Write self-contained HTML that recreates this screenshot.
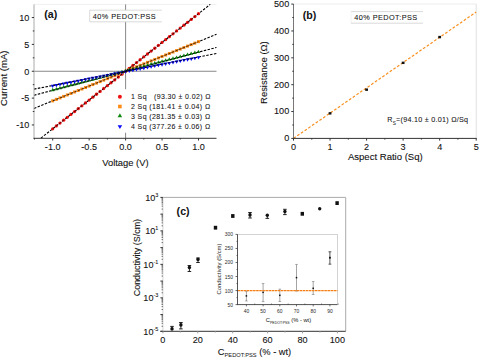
<!DOCTYPE html>
<html><head><meta charset="utf-8"><style>
html,body{margin:0;padding:0;background:#fff;}
body{width:479px;height:359px;overflow:hidden;}
svg{display:block;font-family:"Liberation Sans", sans-serif;}
</style></head><body>
<svg width="479" height="359" viewBox="0 0 479 359">
<rect width="479" height="359" fill="#fff"/>
<g id="pa">
<line x1="34.00" y1="4.40" x2="216.50" y2="4.40" stroke="#f0f0f0" stroke-width="1"/>
<line x1="125.60" y1="4.40" x2="125.60" y2="138.30" stroke="#888" stroke-width="1"/>
<line x1="34.00" y1="71.25" x2="216.50" y2="71.25" stroke="#888" stroke-width="1"/>
<line x1="40.92" y1="138.11" x2="210.28" y2="4.39" stroke="#000" stroke-width="1.1" stroke-dasharray="2.5,1.4"/>
<line x1="34.00" y1="108.44" x2="216.50" y2="34.34" stroke="#000" stroke-width="1.1" stroke-dasharray="2.5,1.4"/>
<line x1="34.00" y1="95.23" x2="216.50" y2="47.45" stroke="#000" stroke-width="1.1" stroke-dasharray="2.5,1.4"/>
<line x1="34.00" y1="89.14" x2="216.50" y2="53.50" stroke="#000" stroke-width="1.1" stroke-dasharray="2.5,1.4"/>
<circle cx="52.70" cy="128.81" r="1.65" fill="#f01010"/>
<circle cx="56.34" cy="125.93" r="1.65" fill="#f01010"/>
<circle cx="59.99" cy="123.05" r="1.65" fill="#f01010"/>
<circle cx="63.63" cy="120.17" r="1.65" fill="#f01010"/>
<circle cx="67.28" cy="117.30" r="1.65" fill="#f01010"/>
<circle cx="70.92" cy="114.42" r="1.65" fill="#f01010"/>
<circle cx="74.57" cy="111.54" r="1.65" fill="#f01010"/>
<circle cx="78.21" cy="108.66" r="1.65" fill="#f01010"/>
<circle cx="81.86" cy="105.78" r="1.65" fill="#f01010"/>
<circle cx="85.50" cy="102.91" r="1.65" fill="#f01010"/>
<circle cx="89.15" cy="100.03" r="1.65" fill="#f01010"/>
<circle cx="92.79" cy="97.15" r="1.65" fill="#f01010"/>
<circle cx="96.44" cy="94.27" r="1.65" fill="#f01010"/>
<circle cx="100.08" cy="91.39" r="1.65" fill="#f01010"/>
<circle cx="103.73" cy="88.52" r="1.65" fill="#f01010"/>
<circle cx="107.38" cy="85.64" r="1.65" fill="#f01010"/>
<circle cx="111.02" cy="82.76" r="1.65" fill="#f01010"/>
<circle cx="114.66" cy="79.88" r="1.65" fill="#f01010"/>
<circle cx="118.31" cy="77.01" r="1.65" fill="#f01010"/>
<circle cx="121.95" cy="74.13" r="1.65" fill="#f01010"/>
<circle cx="125.60" cy="71.25" r="1.65" fill="#f01010"/>
<circle cx="129.25" cy="68.37" r="1.65" fill="#f01010"/>
<circle cx="132.89" cy="65.49" r="1.65" fill="#f01010"/>
<circle cx="136.53" cy="62.62" r="1.65" fill="#f01010"/>
<circle cx="140.18" cy="59.74" r="1.65" fill="#f01010"/>
<circle cx="143.82" cy="56.86" r="1.65" fill="#f01010"/>
<circle cx="147.47" cy="53.98" r="1.65" fill="#f01010"/>
<circle cx="151.12" cy="51.11" r="1.65" fill="#f01010"/>
<circle cx="154.76" cy="48.23" r="1.65" fill="#f01010"/>
<circle cx="158.41" cy="45.35" r="1.65" fill="#f01010"/>
<circle cx="162.05" cy="42.47" r="1.65" fill="#f01010"/>
<circle cx="165.69" cy="39.59" r="1.65" fill="#f01010"/>
<circle cx="169.34" cy="36.72" r="1.65" fill="#f01010"/>
<circle cx="172.99" cy="33.84" r="1.65" fill="#f01010"/>
<circle cx="176.63" cy="30.96" r="1.65" fill="#f01010"/>
<circle cx="180.28" cy="28.08" r="1.65" fill="#f01010"/>
<circle cx="183.92" cy="25.20" r="1.65" fill="#f01010"/>
<circle cx="187.56" cy="22.33" r="1.65" fill="#f01010"/>
<circle cx="191.21" cy="19.45" r="1.65" fill="#f01010"/>
<circle cx="194.86" cy="16.57" r="1.65" fill="#f01010"/>
<circle cx="198.50" cy="13.69" r="1.65" fill="#f01010"/>
<rect x="51.20" y="99.35" width="3.00" height="3.00" fill="#ff8a14"/>
<rect x="54.84" y="97.87" width="3.00" height="3.00" fill="#ff8a14"/>
<rect x="58.49" y="96.39" width="3.00" height="3.00" fill="#ff8a14"/>
<rect x="62.13" y="94.91" width="3.00" height="3.00" fill="#ff8a14"/>
<rect x="65.78" y="93.43" width="3.00" height="3.00" fill="#ff8a14"/>
<rect x="69.42" y="91.95" width="3.00" height="3.00" fill="#ff8a14"/>
<rect x="73.07" y="90.47" width="3.00" height="3.00" fill="#ff8a14"/>
<rect x="76.71" y="88.99" width="3.00" height="3.00" fill="#ff8a14"/>
<rect x="80.36" y="87.51" width="3.00" height="3.00" fill="#ff8a14"/>
<rect x="84.00" y="86.03" width="3.00" height="3.00" fill="#ff8a14"/>
<rect x="87.65" y="84.55" width="3.00" height="3.00" fill="#ff8a14"/>
<rect x="91.29" y="83.07" width="3.00" height="3.00" fill="#ff8a14"/>
<rect x="94.94" y="81.59" width="3.00" height="3.00" fill="#ff8a14"/>
<rect x="98.58" y="80.11" width="3.00" height="3.00" fill="#ff8a14"/>
<rect x="102.23" y="78.63" width="3.00" height="3.00" fill="#ff8a14"/>
<rect x="105.88" y="77.15" width="3.00" height="3.00" fill="#ff8a14"/>
<rect x="109.52" y="75.67" width="3.00" height="3.00" fill="#ff8a14"/>
<rect x="113.16" y="74.19" width="3.00" height="3.00" fill="#ff8a14"/>
<rect x="116.81" y="72.71" width="3.00" height="3.00" fill="#ff8a14"/>
<rect x="120.45" y="71.23" width="3.00" height="3.00" fill="#ff8a14"/>
<rect x="124.10" y="69.75" width="3.00" height="3.00" fill="#ff8a14"/>
<rect x="127.75" y="68.27" width="3.00" height="3.00" fill="#ff8a14"/>
<rect x="131.39" y="66.79" width="3.00" height="3.00" fill="#ff8a14"/>
<rect x="135.03" y="65.31" width="3.00" height="3.00" fill="#ff8a14"/>
<rect x="138.68" y="63.83" width="3.00" height="3.00" fill="#ff8a14"/>
<rect x="142.32" y="62.35" width="3.00" height="3.00" fill="#ff8a14"/>
<rect x="145.97" y="60.87" width="3.00" height="3.00" fill="#ff8a14"/>
<rect x="149.62" y="59.39" width="3.00" height="3.00" fill="#ff8a14"/>
<rect x="153.26" y="57.91" width="3.00" height="3.00" fill="#ff8a14"/>
<rect x="156.91" y="56.43" width="3.00" height="3.00" fill="#ff8a14"/>
<rect x="160.55" y="54.95" width="3.00" height="3.00" fill="#ff8a14"/>
<rect x="164.19" y="53.47" width="3.00" height="3.00" fill="#ff8a14"/>
<rect x="167.84" y="51.99" width="3.00" height="3.00" fill="#ff8a14"/>
<rect x="171.49" y="50.51" width="3.00" height="3.00" fill="#ff8a14"/>
<rect x="175.13" y="49.03" width="3.00" height="3.00" fill="#ff8a14"/>
<rect x="178.78" y="47.55" width="3.00" height="3.00" fill="#ff8a14"/>
<rect x="182.42" y="46.07" width="3.00" height="3.00" fill="#ff8a14"/>
<rect x="186.06" y="44.59" width="3.00" height="3.00" fill="#ff8a14"/>
<rect x="189.71" y="43.11" width="3.00" height="3.00" fill="#ff8a14"/>
<rect x="193.36" y="41.63" width="3.00" height="3.00" fill="#ff8a14"/>
<rect x="197.00" y="40.15" width="3.00" height="3.00" fill="#ff8a14"/>
<path d="M52.70,87.84L54.60,91.14L50.80,91.14Z" fill="#108a10"/>
<path d="M56.34,86.88L58.24,90.18L54.44,90.18Z" fill="#108a10"/>
<path d="M59.99,85.93L61.89,89.23L58.09,89.23Z" fill="#108a10"/>
<path d="M63.63,84.97L65.53,88.27L61.73,88.27Z" fill="#108a10"/>
<path d="M67.28,84.02L69.18,87.32L65.38,87.32Z" fill="#108a10"/>
<path d="M70.92,83.06L72.82,86.36L69.02,86.36Z" fill="#108a10"/>
<path d="M74.57,82.11L76.47,85.41L72.67,85.41Z" fill="#108a10"/>
<path d="M78.21,81.16L80.11,84.46L76.31,84.46Z" fill="#108a10"/>
<path d="M81.86,80.20L83.76,83.50L79.96,83.50Z" fill="#108a10"/>
<path d="M85.50,79.25L87.41,82.55L83.60,82.55Z" fill="#108a10"/>
<path d="M89.15,78.29L91.05,81.59L87.25,81.59Z" fill="#108a10"/>
<path d="M92.79,77.34L94.69,80.64L90.89,80.64Z" fill="#108a10"/>
<path d="M96.44,76.38L98.34,79.68L94.54,79.68Z" fill="#108a10"/>
<path d="M100.08,75.43L101.98,78.73L98.18,78.73Z" fill="#108a10"/>
<path d="M103.73,74.48L105.63,77.78L101.83,77.78Z" fill="#108a10"/>
<path d="M107.38,73.52L109.28,76.82L105.47,76.82Z" fill="#108a10"/>
<path d="M111.02,72.57L112.92,75.87L109.12,75.87Z" fill="#108a10"/>
<path d="M114.66,71.61L116.56,74.91L112.76,74.91Z" fill="#108a10"/>
<path d="M118.31,70.66L120.21,73.96L116.41,73.96Z" fill="#108a10"/>
<path d="M121.95,69.70L123.86,73.00L120.05,73.00Z" fill="#108a10"/>
<path d="M125.60,68.75L127.50,72.05L123.70,72.05Z" fill="#108a10"/>
<path d="M129.25,67.80L131.15,71.10L127.34,71.10Z" fill="#108a10"/>
<path d="M132.89,66.84L134.79,70.14L130.99,70.14Z" fill="#108a10"/>
<path d="M136.53,65.89L138.44,69.19L134.63,69.19Z" fill="#108a10"/>
<path d="M140.18,64.93L142.08,68.23L138.28,68.23Z" fill="#108a10"/>
<path d="M143.82,63.98L145.72,67.28L141.92,67.28Z" fill="#108a10"/>
<path d="M147.47,63.02L149.37,66.32L145.57,66.32Z" fill="#108a10"/>
<path d="M151.12,62.07L153.02,65.37L149.22,65.37Z" fill="#108a10"/>
<path d="M154.76,61.12L156.66,64.42L152.86,64.42Z" fill="#108a10"/>
<path d="M158.41,60.16L160.31,63.46L156.50,63.46Z" fill="#108a10"/>
<path d="M162.05,59.21L163.95,62.51L160.15,62.51Z" fill="#108a10"/>
<path d="M165.69,58.25L167.59,61.55L163.79,61.55Z" fill="#108a10"/>
<path d="M169.34,57.30L171.24,60.60L167.44,60.60Z" fill="#108a10"/>
<path d="M172.99,56.34L174.89,59.64L171.09,59.64Z" fill="#108a10"/>
<path d="M176.63,55.39L178.53,58.69L174.73,58.69Z" fill="#108a10"/>
<path d="M180.28,54.44L182.18,57.74L178.38,57.74Z" fill="#108a10"/>
<path d="M183.92,53.48L185.82,56.78L182.02,56.78Z" fill="#108a10"/>
<path d="M187.56,52.53L189.47,55.83L185.66,55.83Z" fill="#108a10"/>
<path d="M191.21,51.57L193.11,54.87L189.31,54.87Z" fill="#108a10"/>
<path d="M194.86,50.62L196.76,53.92L192.96,53.92Z" fill="#108a10"/>
<path d="M198.50,49.66L200.40,52.96L196.60,52.96Z" fill="#108a10"/>
<path d="M52.70,87.98L54.60,84.68L50.80,84.68Z" fill="#0a0aff"/>
<path d="M56.34,87.27L58.24,83.97L54.44,83.97Z" fill="#0a0aff"/>
<path d="M59.99,86.56L61.89,83.26L58.09,83.26Z" fill="#0a0aff"/>
<path d="M63.63,85.85L65.53,82.55L61.73,82.55Z" fill="#0a0aff"/>
<path d="M67.28,85.14L69.18,81.84L65.38,81.84Z" fill="#0a0aff"/>
<path d="M70.92,84.43L72.82,81.13L69.02,81.13Z" fill="#0a0aff"/>
<path d="M74.57,83.71L76.47,80.41L72.67,80.41Z" fill="#0a0aff"/>
<path d="M78.21,83.00L80.11,79.70L76.31,79.70Z" fill="#0a0aff"/>
<path d="M81.86,82.29L83.76,78.99L79.96,78.99Z" fill="#0a0aff"/>
<path d="M85.50,81.58L87.41,78.28L83.60,78.28Z" fill="#0a0aff"/>
<path d="M89.15,80.87L91.05,77.57L87.25,77.57Z" fill="#0a0aff"/>
<path d="M92.79,80.16L94.69,76.86L90.89,76.86Z" fill="#0a0aff"/>
<path d="M96.44,79.44L98.34,76.14L94.54,76.14Z" fill="#0a0aff"/>
<path d="M100.08,78.73L101.98,75.43L98.18,75.43Z" fill="#0a0aff"/>
<path d="M103.73,78.02L105.63,74.72L101.83,74.72Z" fill="#0a0aff"/>
<path d="M107.38,77.31L109.28,74.01L105.47,74.01Z" fill="#0a0aff"/>
<path d="M111.02,76.60L112.92,73.30L109.12,73.30Z" fill="#0a0aff"/>
<path d="M114.66,75.89L116.56,72.59L112.76,72.59Z" fill="#0a0aff"/>
<path d="M118.31,75.17L120.21,71.87L116.41,71.87Z" fill="#0a0aff"/>
<path d="M121.95,74.46L123.86,71.16L120.05,71.16Z" fill="#0a0aff"/>
<path d="M125.60,73.75L127.50,70.45L123.70,70.45Z" fill="#0a0aff"/>
<path d="M129.25,73.04L131.15,69.74L127.34,69.74Z" fill="#0a0aff"/>
<path d="M132.89,72.33L134.79,69.03L130.99,69.03Z" fill="#0a0aff"/>
<path d="M136.53,71.61L138.44,68.31L134.63,68.31Z" fill="#0a0aff"/>
<path d="M140.18,70.90L142.08,67.60L138.28,67.60Z" fill="#0a0aff"/>
<path d="M143.82,70.19L145.72,66.89L141.92,66.89Z" fill="#0a0aff"/>
<path d="M147.47,69.48L149.37,66.18L145.57,66.18Z" fill="#0a0aff"/>
<path d="M151.12,68.77L153.02,65.47L149.22,65.47Z" fill="#0a0aff"/>
<path d="M154.76,68.06L156.66,64.76L152.86,64.76Z" fill="#0a0aff"/>
<path d="M158.41,67.34L160.31,64.04L156.50,64.04Z" fill="#0a0aff"/>
<path d="M162.05,66.63L163.95,63.33L160.15,63.33Z" fill="#0a0aff"/>
<path d="M165.69,65.92L167.59,62.62L163.79,62.62Z" fill="#0a0aff"/>
<path d="M169.34,65.21L171.24,61.91L167.44,61.91Z" fill="#0a0aff"/>
<path d="M172.99,64.50L174.89,61.20L171.09,61.20Z" fill="#0a0aff"/>
<path d="M176.63,63.79L178.53,60.49L174.73,60.49Z" fill="#0a0aff"/>
<path d="M180.28,63.07L182.18,59.77L178.38,59.77Z" fill="#0a0aff"/>
<path d="M183.92,62.36L185.82,59.06L182.02,59.06Z" fill="#0a0aff"/>
<path d="M187.56,61.65L189.47,58.35L185.66,58.35Z" fill="#0a0aff"/>
<path d="M191.21,60.94L193.11,57.64L189.31,57.64Z" fill="#0a0aff"/>
<path d="M194.86,60.23L196.76,56.93L192.96,56.93Z" fill="#0a0aff"/>
<path d="M198.50,59.52L200.40,56.22L196.60,56.22Z" fill="#0a0aff"/>
<line x1="52.70" y1="128.81" x2="198.50" y2="13.69" stroke="#000" stroke-width="0.9" stroke-dasharray="2.5,1.4" opacity="0.8"/>
<line x1="52.70" y1="100.85" x2="198.50" y2="41.65" stroke="#000" stroke-width="0.9" stroke-dasharray="2.5,1.4" opacity="0.8"/>
<line x1="52.70" y1="90.34" x2="198.50" y2="52.16" stroke="#000" stroke-width="0.9" stroke-dasharray="2.5,1.4" opacity="0.8"/>
<line x1="52.70" y1="85.48" x2="198.50" y2="57.02" stroke="#000" stroke-width="0.9" stroke-dasharray="2.5,1.4" opacity="0.8"/>
<line x1="34.00" y1="4.40" x2="34.00" y2="138.80" stroke="#aaa" stroke-width="1"/>
<line x1="33.50" y1="138.30" x2="216.50" y2="138.30" stroke="#333" stroke-width="1"/>
<line x1="31.80" y1="124.95" x2="34.00" y2="124.95" stroke="#333" stroke-width="1"/>
<text transform="translate(29.40,128.25) scale(0.92,1)" text-anchor="end" font-size="9.9" fill="#111" stroke="#111" stroke-width="0.1">-10</text>
<line x1="31.80" y1="98.10" x2="34.00" y2="98.10" stroke="#333" stroke-width="1"/>
<text transform="translate(29.40,101.40) scale(0.92,1)" text-anchor="end" font-size="9.9" fill="#111" stroke="#111" stroke-width="0.1">-5</text>
<line x1="31.80" y1="71.25" x2="34.00" y2="71.25" stroke="#333" stroke-width="1"/>
<text transform="translate(29.40,74.55) scale(0.92,1)" text-anchor="end" font-size="9.9" fill="#111" stroke="#111" stroke-width="0.1">0</text>
<line x1="31.80" y1="44.40" x2="34.00" y2="44.40" stroke="#333" stroke-width="1"/>
<text transform="translate(29.40,47.70) scale(0.92,1)" text-anchor="end" font-size="9.9" fill="#111" stroke="#111" stroke-width="0.1">5</text>
<line x1="31.80" y1="17.55" x2="34.00" y2="17.55" stroke="#333" stroke-width="1"/>
<text transform="translate(29.40,20.85) scale(0.92,1)" text-anchor="end" font-size="9.9" fill="#111" stroke="#111" stroke-width="0.1">10</text>
<line x1="32.80" y1="111.53" x2="34.30" y2="111.53" stroke="#333" stroke-width="1"/>
<line x1="32.80" y1="84.67" x2="34.30" y2="84.67" stroke="#333" stroke-width="1"/>
<line x1="32.80" y1="57.83" x2="34.30" y2="57.83" stroke="#333" stroke-width="1"/>
<line x1="32.80" y1="30.98" x2="34.30" y2="30.98" stroke="#333" stroke-width="1"/>
<line x1="52.70" y1="138.30" x2="52.70" y2="140.50" stroke="#333" stroke-width="1"/>
<text transform="translate(52.70,150.40) scale(0.92,1)" text-anchor="middle" font-size="9.9" fill="#111" stroke="#111" stroke-width="0.1">-1.0</text>
<line x1="89.15" y1="138.30" x2="89.15" y2="140.50" stroke="#333" stroke-width="1"/>
<text transform="translate(89.15,150.40) scale(0.92,1)" text-anchor="middle" font-size="9.9" fill="#111" stroke="#111" stroke-width="0.1">-0.5</text>
<line x1="125.60" y1="138.30" x2="125.60" y2="140.50" stroke="#333" stroke-width="1"/>
<text transform="translate(125.60,150.40) scale(0.92,1)" text-anchor="middle" font-size="9.9" fill="#111" stroke="#111" stroke-width="0.1">0.0</text>
<line x1="162.05" y1="138.30" x2="162.05" y2="140.50" stroke="#333" stroke-width="1"/>
<text transform="translate(162.05,150.40) scale(0.92,1)" text-anchor="middle" font-size="9.9" fill="#111" stroke="#111" stroke-width="0.1">0.5</text>
<line x1="198.50" y1="138.30" x2="198.50" y2="140.50" stroke="#333" stroke-width="1"/>
<text transform="translate(198.50,150.40) scale(0.92,1)" text-anchor="middle" font-size="9.9" fill="#111" stroke="#111" stroke-width="0.1">1.0</text>
<line x1="34.47" y1="138.30" x2="34.47" y2="139.50" stroke="#333" stroke-width="1"/>
<line x1="70.92" y1="138.30" x2="70.92" y2="139.50" stroke="#333" stroke-width="1"/>
<line x1="107.38" y1="138.30" x2="107.38" y2="139.50" stroke="#333" stroke-width="1"/>
<line x1="143.82" y1="138.30" x2="143.82" y2="139.50" stroke="#333" stroke-width="1"/>
<line x1="180.28" y1="138.30" x2="180.28" y2="139.50" stroke="#333" stroke-width="1"/>
<text transform="translate(125.40,165.60) scale(1.0,1)" text-anchor="middle" font-size="9.4" fill="#111" stroke="#111" stroke-width="0.1">Voltage (V)</text>
<text transform="translate(6.60,78.20) rotate(-90) scale(1.0,1)" text-anchor="middle" font-size="9.6" fill="#111" stroke="#111" stroke-width="0.1">Current (mA)</text>
<text transform="translate(44.20,18.00) scale(0.95,1)" text-anchor="start" font-size="11.2" font-weight="bold" fill="#111">(a)</text>
<rect x="89.7" y="10.2" width="72.1" height="11.6" fill="#fff"/>
<path d="M161.8,10.2H89.7V21.8H161.8" fill="none" stroke="#d0d0d0" stroke-width="0.8"/>
<text transform="translate(92.70,18.80) scale(1.0,1)" text-anchor="start" font-size="7.3" letter-spacing="0.45" fill="#111" stroke="#111" stroke-width="0.06">40% PEDOT:PSS</text>
<rect x="113" y="89.2" width="100" height="43.5" fill="#fff"/>
<circle cx="119.90" cy="96.80" r="1.98" fill="#f01010"/>
<text transform="translate(131.00,99.40) scale(1.0,1)" text-anchor="start" font-size="7.0" letter-spacing="0.39" fill="#111" stroke="#111" stroke-width="0.06">1 Sq&#160;&#160;&#160;(93.30 &#177; 0.02) &#937;</text>
<rect x="118.10" y="104.70" width="3.60" height="3.60" fill="#ff8a14"/>
<text transform="translate(131.00,109.10) scale(1.0,1)" text-anchor="start" font-size="7.0" letter-spacing="0.39" fill="#111" stroke="#111" stroke-width="0.06">2 Sq (181.41 &#177; 0.04) &#937;</text>
<path d="M119.90,113.20L122.18,117.16L117.62,117.16Z" fill="#108a10"/>
<text transform="translate(131.00,118.80) scale(1.0,1)" text-anchor="start" font-size="7.0" letter-spacing="0.39" fill="#111" stroke="#111" stroke-width="0.06">3 Sq (281.35 &#177; 0.03) &#937;</text>
<path d="M119.90,129.10L122.18,125.14L117.62,125.14Z" fill="#0a0aff"/>
<text transform="translate(131.00,128.70) scale(1.0,1)" text-anchor="start" font-size="7.0" letter-spacing="0.39" fill="#111" stroke="#111" stroke-width="0.06">4 Sq (377.26 &#177; 0.06) &#937;</text>
</g>
<g id="pb">
<line x1="293.50" y1="4.00" x2="476.20" y2="4.00" stroke="#ececec" stroke-width="1"/>
<line x1="476.20" y1="4.00" x2="476.20" y2="138.40" stroke="#e0e0e0" stroke-width="1"/>
<line x1="293.50" y1="138.40" x2="476.20" y2="12.02" stroke="#f7901e" stroke-width="1.2" stroke-dasharray="2.7,1.8"/>
<rect x="328.64" y="112.14" width="2.8" height="2.4" fill="#111"/>
<rect x="365.18" y="88.47" width="2.8" height="2.4" fill="#111"/>
<rect x="401.72" y="61.63" width="2.8" height="2.4" fill="#111"/>
<rect x="438.26" y="35.87" width="2.8" height="2.4" fill="#111"/>
<line x1="293.50" y1="4.00" x2="293.50" y2="138.90" stroke="#777" stroke-width="1"/>
<line x1="293.00" y1="138.40" x2="476.70" y2="138.40" stroke="#333" stroke-width="1"/>
<line x1="291.30" y1="138.40" x2="293.50" y2="138.40" stroke="#333" stroke-width="1"/>
<text transform="translate(289.20,141.30) scale(0.92,1)" text-anchor="end" font-size="9.9" fill="#111" stroke="#111" stroke-width="0.1">0</text>
<line x1="291.30" y1="111.54" x2="293.50" y2="111.54" stroke="#333" stroke-width="1"/>
<text transform="translate(289.20,114.44) scale(0.92,1)" text-anchor="end" font-size="9.9" fill="#111" stroke="#111" stroke-width="0.1">100</text>
<line x1="291.30" y1="84.68" x2="293.50" y2="84.68" stroke="#333" stroke-width="1"/>
<text transform="translate(289.20,87.58) scale(0.92,1)" text-anchor="end" font-size="9.9" fill="#111" stroke="#111" stroke-width="0.1">200</text>
<line x1="291.30" y1="57.82" x2="293.50" y2="57.82" stroke="#333" stroke-width="1"/>
<text transform="translate(289.20,60.72) scale(0.92,1)" text-anchor="end" font-size="9.9" fill="#111" stroke="#111" stroke-width="0.1">300</text>
<line x1="291.30" y1="30.96" x2="293.50" y2="30.96" stroke="#333" stroke-width="1"/>
<text transform="translate(289.20,33.86) scale(0.92,1)" text-anchor="end" font-size="9.9" fill="#111" stroke="#111" stroke-width="0.1">400</text>
<line x1="291.30" y1="4.10" x2="293.50" y2="4.10" stroke="#333" stroke-width="1"/>
<text transform="translate(289.20,7.00) scale(0.92,1)" text-anchor="end" font-size="9.9" fill="#111" stroke="#111" stroke-width="0.1">500</text>
<line x1="292.30" y1="124.97" x2="293.80" y2="124.97" stroke="#333" stroke-width="1"/>
<line x1="292.30" y1="98.11" x2="293.80" y2="98.11" stroke="#333" stroke-width="1"/>
<line x1="292.30" y1="71.25" x2="293.80" y2="71.25" stroke="#333" stroke-width="1"/>
<line x1="292.30" y1="44.39" x2="293.80" y2="44.39" stroke="#333" stroke-width="1"/>
<line x1="292.30" y1="17.53" x2="293.80" y2="17.53" stroke="#333" stroke-width="1"/>
<line x1="293.50" y1="138.40" x2="293.50" y2="140.60" stroke="#333" stroke-width="1"/>
<text transform="translate(293.50,150.20) scale(0.92,1)" text-anchor="middle" font-size="9.9" fill="#111" stroke="#111" stroke-width="0.1">0</text>
<line x1="330.04" y1="138.40" x2="330.04" y2="140.60" stroke="#333" stroke-width="1"/>
<text transform="translate(330.04,150.20) scale(0.92,1)" text-anchor="middle" font-size="9.9" fill="#111" stroke="#111" stroke-width="0.1">1</text>
<line x1="366.58" y1="138.40" x2="366.58" y2="140.60" stroke="#333" stroke-width="1"/>
<text transform="translate(366.58,150.20) scale(0.92,1)" text-anchor="middle" font-size="9.9" fill="#111" stroke="#111" stroke-width="0.1">2</text>
<line x1="403.12" y1="138.40" x2="403.12" y2="140.60" stroke="#333" stroke-width="1"/>
<text transform="translate(403.12,150.20) scale(0.92,1)" text-anchor="middle" font-size="9.9" fill="#111" stroke="#111" stroke-width="0.1">3</text>
<line x1="439.66" y1="138.40" x2="439.66" y2="140.60" stroke="#333" stroke-width="1"/>
<text transform="translate(439.66,150.20) scale(0.92,1)" text-anchor="middle" font-size="9.9" fill="#111" stroke="#111" stroke-width="0.1">4</text>
<line x1="476.20" y1="138.40" x2="476.20" y2="140.60" stroke="#333" stroke-width="1"/>
<text transform="translate(476.20,150.20) scale(0.92,1)" text-anchor="middle" font-size="9.9" fill="#111" stroke="#111" stroke-width="0.1">5</text>
<line x1="311.77" y1="138.40" x2="311.77" y2="139.60" stroke="#333" stroke-width="1"/>
<line x1="348.31" y1="138.40" x2="348.31" y2="139.60" stroke="#333" stroke-width="1"/>
<line x1="384.85" y1="138.40" x2="384.85" y2="139.60" stroke="#333" stroke-width="1"/>
<line x1="421.39" y1="138.40" x2="421.39" y2="139.60" stroke="#333" stroke-width="1"/>
<line x1="457.93" y1="138.40" x2="457.93" y2="139.60" stroke="#333" stroke-width="1"/>
<text transform="translate(385.30,159.70) scale(1.0,1)" text-anchor="middle" font-size="9.55" fill="#111" stroke="#111" stroke-width="0.1">Aspect Ratio (Sq)</text>
<text transform="translate(266.80,72.60) rotate(-90) scale(1.0,1)" text-anchor="middle" font-size="9.45" fill="#111" stroke="#111" stroke-width="0.1">Resistance (&#937;)</text>
<text transform="translate(302.80,18.50) scale(0.95,1)" text-anchor="start" font-size="11.2" font-weight="bold" fill="#111">(b)</text>
<line x1="351.00" y1="11.60" x2="423.00" y2="11.60" stroke="#cfcfcf" stroke-width="0.8"/>
<line x1="351.00" y1="11.60" x2="351.00" y2="23.20" stroke="#efefef" stroke-width="0.8"/>
<line x1="351.00" y1="23.20" x2="423.00" y2="23.20" stroke="#cfcfcf" stroke-width="0.8"/>
<text transform="translate(354.20,20.30) scale(1.0,1)" text-anchor="start" font-size="7.3" letter-spacing="0.45" fill="#111" stroke="#111" stroke-width="0.06">40% PEDOT:PSS</text>
<text transform="translate(387.20,121.90) scale(1.0,1)" text-anchor="start" font-size="7.2" letter-spacing="0.26" fill="#111" stroke="#111" stroke-width="0.06">R<tspan font-size="4.8" dy="2.6" stroke-width="0">S</tspan><tspan dy="-2.6">=(94.10 &#177; 0.01) &#937;/Sq</tspan></text>
</g>
<g id="pc">
<path d="M162.9,197.4H345.7V331.3" fill="none" stroke="#aaa" stroke-width="1"/>
<line x1="172.00" y1="326.40" x2="172.00" y2="328.90" stroke="#111" stroke-width="0.9"/>
<line x1="170.20" y1="326.40" x2="173.80" y2="326.40" stroke="#111" stroke-width="0.9"/>
<ellipse cx="172.00" cy="328.9" rx="1.7" ry="1.8" fill="#111"/>
<line x1="180.90" y1="322.50" x2="180.90" y2="328.90" stroke="#111" stroke-width="0.9"/>
<line x1="179.10" y1="322.50" x2="182.70" y2="322.50" stroke="#111" stroke-width="0.9"/>
<line x1="179.10" y1="328.90" x2="182.70" y2="328.90" stroke="#111" stroke-width="0.9"/>
<ellipse cx="180.90" cy="324.9" rx="1.7" ry="1.8" fill="#111"/>
<line x1="189.40" y1="265.50" x2="189.40" y2="271.50" stroke="#111" stroke-width="0.9"/>
<line x1="187.60" y1="265.50" x2="191.20" y2="265.50" stroke="#111" stroke-width="0.9"/>
<line x1="187.60" y1="271.50" x2="191.20" y2="271.50" stroke="#111" stroke-width="0.9"/>
<ellipse cx="189.40" cy="267.5" rx="1.7" ry="1.8" fill="#111"/>
<line x1="198.00" y1="258.00" x2="198.00" y2="262.50" stroke="#111" stroke-width="0.9"/>
<line x1="196.20" y1="258.00" x2="199.80" y2="258.00" stroke="#111" stroke-width="0.9"/>
<line x1="196.20" y1="262.50" x2="199.80" y2="262.50" stroke="#111" stroke-width="0.9"/>
<ellipse cx="198.00" cy="259.4" rx="1.7" ry="1.8" fill="#111"/>
<rect x="213.80" y="225.80" width="3.4" height="3.8" fill="#111"/>
<rect x="231.10" y="214.10" width="3.4" height="3.8" fill="#111"/>
<line x1="250.00" y1="212.50" x2="250.00" y2="218.00" stroke="#111" stroke-width="0.9"/>
<line x1="248.20" y1="212.50" x2="251.80" y2="212.50" stroke="#111" stroke-width="0.9"/>
<line x1="248.20" y1="218.00" x2="251.80" y2="218.00" stroke="#111" stroke-width="0.9"/>
<ellipse cx="250.00" cy="214.9" rx="1.7" ry="1.8" fill="#111"/>
<line x1="267.30" y1="215.30" x2="267.30" y2="218.40" stroke="#111" stroke-width="0.9"/>
<line x1="265.50" y1="218.40" x2="269.10" y2="218.40" stroke="#111" stroke-width="0.9"/>
<ellipse cx="267.30" cy="215.3" rx="1.7" ry="1.8" fill="#111"/>
<line x1="284.90" y1="209.30" x2="284.90" y2="214.60" stroke="#111" stroke-width="0.9"/>
<line x1="283.10" y1="209.30" x2="286.70" y2="209.30" stroke="#111" stroke-width="0.9"/>
<line x1="283.10" y1="214.60" x2="286.70" y2="214.60" stroke="#111" stroke-width="0.9"/>
<ellipse cx="284.90" cy="211.5" rx="1.7" ry="1.8" fill="#111"/>
<rect x="300.60" y="211.90" width="3.4" height="3.8" fill="#111"/>
<ellipse cx="319.70" cy="208.8" rx="1.7" ry="1.8" fill="#111"/>
<rect x="335.40" y="201.20" width="3.4" height="3.8" fill="#111"/>
<line x1="162.90" y1="197.40" x2="162.90" y2="331.80" stroke="#d4d4d4" stroke-width="1"/>
<line x1="160.40" y1="331.30" x2="345.70" y2="331.30" stroke="#333" stroke-width="1"/>
<line x1="160.40" y1="331.30" x2="162.90" y2="331.30" stroke="#333" stroke-width="1"/>
<line x1="161.60" y1="326.26" x2="162.90" y2="326.26" stroke="#444" stroke-width="0.8"/>
<line x1="161.60" y1="323.31" x2="162.90" y2="323.31" stroke="#444" stroke-width="0.8"/>
<line x1="161.60" y1="321.22" x2="162.90" y2="321.22" stroke="#444" stroke-width="0.8"/>
<line x1="161.60" y1="319.60" x2="162.90" y2="319.60" stroke="#444" stroke-width="0.8"/>
<line x1="161.60" y1="318.28" x2="162.90" y2="318.28" stroke="#444" stroke-width="0.8"/>
<line x1="161.60" y1="317.16" x2="162.90" y2="317.16" stroke="#444" stroke-width="0.8"/>
<line x1="161.60" y1="316.18" x2="162.90" y2="316.18" stroke="#444" stroke-width="0.8"/>
<line x1="161.60" y1="315.33" x2="162.90" y2="315.33" stroke="#444" stroke-width="0.8"/>
<line x1="160.40" y1="314.56" x2="162.90" y2="314.56" stroke="#333" stroke-width="1"/>
<line x1="161.60" y1="309.52" x2="162.90" y2="309.52" stroke="#444" stroke-width="0.8"/>
<line x1="161.60" y1="306.58" x2="162.90" y2="306.58" stroke="#444" stroke-width="0.8"/>
<line x1="161.60" y1="304.49" x2="162.90" y2="304.49" stroke="#444" stroke-width="0.8"/>
<line x1="161.60" y1="302.86" x2="162.90" y2="302.86" stroke="#444" stroke-width="0.8"/>
<line x1="161.60" y1="301.54" x2="162.90" y2="301.54" stroke="#444" stroke-width="0.8"/>
<line x1="161.60" y1="300.42" x2="162.90" y2="300.42" stroke="#444" stroke-width="0.8"/>
<line x1="161.60" y1="299.45" x2="162.90" y2="299.45" stroke="#444" stroke-width="0.8"/>
<line x1="161.60" y1="298.59" x2="162.90" y2="298.59" stroke="#444" stroke-width="0.8"/>
<line x1="160.40" y1="297.83" x2="162.90" y2="297.83" stroke="#333" stroke-width="1"/>
<line x1="161.60" y1="292.79" x2="162.90" y2="292.79" stroke="#444" stroke-width="0.8"/>
<line x1="161.60" y1="289.84" x2="162.90" y2="289.84" stroke="#444" stroke-width="0.8"/>
<line x1="161.60" y1="287.75" x2="162.90" y2="287.75" stroke="#444" stroke-width="0.8"/>
<line x1="161.60" y1="286.13" x2="162.90" y2="286.13" stroke="#444" stroke-width="0.8"/>
<line x1="161.60" y1="284.80" x2="162.90" y2="284.80" stroke="#444" stroke-width="0.8"/>
<line x1="161.60" y1="283.68" x2="162.90" y2="283.68" stroke="#444" stroke-width="0.8"/>
<line x1="161.60" y1="282.71" x2="162.90" y2="282.71" stroke="#444" stroke-width="0.8"/>
<line x1="161.60" y1="281.85" x2="162.90" y2="281.85" stroke="#444" stroke-width="0.8"/>
<line x1="160.40" y1="281.09" x2="162.90" y2="281.09" stroke="#333" stroke-width="1"/>
<line x1="161.60" y1="276.05" x2="162.90" y2="276.05" stroke="#444" stroke-width="0.8"/>
<line x1="161.60" y1="273.10" x2="162.90" y2="273.10" stroke="#444" stroke-width="0.8"/>
<line x1="161.60" y1="271.01" x2="162.90" y2="271.01" stroke="#444" stroke-width="0.8"/>
<line x1="161.60" y1="269.39" x2="162.90" y2="269.39" stroke="#444" stroke-width="0.8"/>
<line x1="161.60" y1="268.06" x2="162.90" y2="268.06" stroke="#444" stroke-width="0.8"/>
<line x1="161.60" y1="266.94" x2="162.90" y2="266.94" stroke="#444" stroke-width="0.8"/>
<line x1="161.60" y1="265.97" x2="162.90" y2="265.97" stroke="#444" stroke-width="0.8"/>
<line x1="161.60" y1="265.12" x2="162.90" y2="265.12" stroke="#444" stroke-width="0.8"/>
<line x1="160.40" y1="264.35" x2="162.90" y2="264.35" stroke="#333" stroke-width="1"/>
<line x1="161.60" y1="259.31" x2="162.90" y2="259.31" stroke="#444" stroke-width="0.8"/>
<line x1="161.60" y1="256.36" x2="162.90" y2="256.36" stroke="#444" stroke-width="0.8"/>
<line x1="161.60" y1="254.27" x2="162.90" y2="254.27" stroke="#444" stroke-width="0.8"/>
<line x1="161.60" y1="252.65" x2="162.90" y2="252.65" stroke="#444" stroke-width="0.8"/>
<line x1="161.60" y1="251.33" x2="162.90" y2="251.33" stroke="#444" stroke-width="0.8"/>
<line x1="161.60" y1="250.21" x2="162.90" y2="250.21" stroke="#444" stroke-width="0.8"/>
<line x1="161.60" y1="249.23" x2="162.90" y2="249.23" stroke="#444" stroke-width="0.8"/>
<line x1="161.60" y1="248.38" x2="162.90" y2="248.38" stroke="#444" stroke-width="0.8"/>
<line x1="160.40" y1="247.61" x2="162.90" y2="247.61" stroke="#333" stroke-width="1"/>
<line x1="161.60" y1="242.57" x2="162.90" y2="242.57" stroke="#444" stroke-width="0.8"/>
<line x1="161.60" y1="239.63" x2="162.90" y2="239.63" stroke="#444" stroke-width="0.8"/>
<line x1="161.60" y1="237.54" x2="162.90" y2="237.54" stroke="#444" stroke-width="0.8"/>
<line x1="161.60" y1="235.91" x2="162.90" y2="235.91" stroke="#444" stroke-width="0.8"/>
<line x1="161.60" y1="234.59" x2="162.90" y2="234.59" stroke="#444" stroke-width="0.8"/>
<line x1="161.60" y1="233.47" x2="162.90" y2="233.47" stroke="#444" stroke-width="0.8"/>
<line x1="161.60" y1="232.50" x2="162.90" y2="232.50" stroke="#444" stroke-width="0.8"/>
<line x1="161.60" y1="231.64" x2="162.90" y2="231.64" stroke="#444" stroke-width="0.8"/>
<line x1="160.40" y1="230.88" x2="162.90" y2="230.88" stroke="#333" stroke-width="1"/>
<line x1="161.60" y1="225.84" x2="162.90" y2="225.84" stroke="#444" stroke-width="0.8"/>
<line x1="161.60" y1="222.89" x2="162.90" y2="222.89" stroke="#444" stroke-width="0.8"/>
<line x1="161.60" y1="220.80" x2="162.90" y2="220.80" stroke="#444" stroke-width="0.8"/>
<line x1="161.60" y1="219.18" x2="162.90" y2="219.18" stroke="#444" stroke-width="0.8"/>
<line x1="161.60" y1="217.85" x2="162.90" y2="217.85" stroke="#444" stroke-width="0.8"/>
<line x1="161.60" y1="216.73" x2="162.90" y2="216.73" stroke="#444" stroke-width="0.8"/>
<line x1="161.60" y1="215.76" x2="162.90" y2="215.76" stroke="#444" stroke-width="0.8"/>
<line x1="161.60" y1="214.90" x2="162.90" y2="214.90" stroke="#444" stroke-width="0.8"/>
<line x1="160.40" y1="214.14" x2="162.90" y2="214.14" stroke="#333" stroke-width="1"/>
<line x1="161.60" y1="209.10" x2="162.90" y2="209.10" stroke="#444" stroke-width="0.8"/>
<line x1="161.60" y1="206.15" x2="162.90" y2="206.15" stroke="#444" stroke-width="0.8"/>
<line x1="161.60" y1="204.06" x2="162.90" y2="204.06" stroke="#444" stroke-width="0.8"/>
<line x1="161.60" y1="202.44" x2="162.90" y2="202.44" stroke="#444" stroke-width="0.8"/>
<line x1="161.60" y1="201.11" x2="162.90" y2="201.11" stroke="#444" stroke-width="0.8"/>
<line x1="161.60" y1="199.99" x2="162.90" y2="199.99" stroke="#444" stroke-width="0.8"/>
<line x1="161.60" y1="199.02" x2="162.90" y2="199.02" stroke="#444" stroke-width="0.8"/>
<line x1="161.60" y1="198.17" x2="162.90" y2="198.17" stroke="#444" stroke-width="0.8"/>
<line x1="160.40" y1="197.40" x2="162.90" y2="197.40" stroke="#333" stroke-width="1"/>
<text transform="translate(158.40,200.90) scale(0.92,1)" text-anchor="end" font-size="9.9" fill="#111" stroke="#111" stroke-width="0.1">10<tspan font-size="6" dy="-4.1" stroke-width="0.08">3</tspan></text>
<text transform="translate(158.40,234.38) scale(0.92,1)" text-anchor="end" font-size="9.9" fill="#111" stroke="#111" stroke-width="0.1">10<tspan font-size="6" dy="-4.1" stroke-width="0.08">1</tspan></text>
<text transform="translate(158.40,267.85) scale(0.92,1)" text-anchor="end" font-size="9.9" fill="#111" stroke="#111" stroke-width="0.1">10<tspan font-size="6" dy="-4.1" stroke-width="0.08">-1</tspan></text>
<text transform="translate(158.40,301.33) scale(0.92,1)" text-anchor="end" font-size="9.9" fill="#111" stroke="#111" stroke-width="0.1">10<tspan font-size="6" dy="-4.1" stroke-width="0.08">-3</tspan></text>
<text transform="translate(158.40,334.80) scale(0.92,1)" text-anchor="end" font-size="9.9" fill="#111" stroke="#111" stroke-width="0.1">10<tspan font-size="6" dy="-4.1" stroke-width="0.08">-5</tspan></text>
<line x1="162.90" y1="331.30" x2="162.90" y2="333.30" stroke="#999" stroke-width="1"/>
<text transform="translate(162.90,343.40) scale(0.92,1)" text-anchor="middle" font-size="9.9" fill="#111" stroke="#111" stroke-width="0.1">0</text>
<line x1="197.80" y1="331.30" x2="197.80" y2="333.30" stroke="#999" stroke-width="1"/>
<text transform="translate(197.80,343.40) scale(0.92,1)" text-anchor="middle" font-size="9.9" fill="#111" stroke="#111" stroke-width="0.1">20</text>
<line x1="232.70" y1="331.30" x2="232.70" y2="333.30" stroke="#999" stroke-width="1"/>
<text transform="translate(232.70,343.40) scale(0.92,1)" text-anchor="middle" font-size="9.9" fill="#111" stroke="#111" stroke-width="0.1">40</text>
<line x1="267.60" y1="331.30" x2="267.60" y2="333.30" stroke="#999" stroke-width="1"/>
<text transform="translate(267.60,343.40) scale(0.92,1)" text-anchor="middle" font-size="9.9" fill="#111" stroke="#111" stroke-width="0.1">60</text>
<line x1="302.50" y1="331.30" x2="302.50" y2="333.30" stroke="#999" stroke-width="1"/>
<text transform="translate(302.50,343.40) scale(0.92,1)" text-anchor="middle" font-size="9.9" fill="#111" stroke="#111" stroke-width="0.1">80</text>
<line x1="337.40" y1="331.30" x2="337.40" y2="333.30" stroke="#999" stroke-width="1"/>
<text transform="translate(337.40,343.40) scale(0.92,1)" text-anchor="middle" font-size="9.9" fill="#111" stroke="#111" stroke-width="0.1">100</text>
<line x1="180.35" y1="331.30" x2="180.35" y2="332.50" stroke="#999" stroke-width="1"/>
<line x1="215.25" y1="331.30" x2="215.25" y2="332.50" stroke="#999" stroke-width="1"/>
<line x1="250.15" y1="331.30" x2="250.15" y2="332.50" stroke="#999" stroke-width="1"/>
<line x1="285.05" y1="331.30" x2="285.05" y2="332.50" stroke="#999" stroke-width="1"/>
<line x1="319.95" y1="331.30" x2="319.95" y2="332.50" stroke="#999" stroke-width="1"/>
<text transform="translate(217.80,354.80) scale(0.94,1)" text-anchor="start" font-size="9.9" fill="#111" stroke="#111" stroke-width="0.1">C<tspan font-size="6.1" dy="2.6" stroke-width="0">PEDOT:PSS</tspan><tspan dy="-2.6"> (% - wt)</tspan></text>
<text transform="translate(140.10,257.60) rotate(-90) scale(0.95,1)" text-anchor="middle" font-size="9.4" fill="#111" stroke="#111" stroke-width="0.1">Conductivity (S/cm)</text>
<text transform="translate(176.60,215.40) scale(0.95,1)" text-anchor="start" font-size="11.2" font-weight="bold" fill="#111">(c)</text>
<rect x="237.5" y="234.4" width="100.0" height="70.20000000000002" fill="#fff" stroke="#c8c8c8" stroke-width="0.8"/>
<line x1="246.40" y1="291.12" x2="246.40" y2="300.95" stroke="#666" stroke-width="0.6"/>
<line x1="245.10" y1="291.12" x2="247.70" y2="291.12" stroke="#777" stroke-width="0.6"/>
<line x1="245.10" y1="300.95" x2="247.70" y2="300.95" stroke="#777" stroke-width="0.6"/>
<rect x="245.65" y="295.15" width="1.5" height="1.5" fill="#111"/>
<line x1="263.10" y1="283.54" x2="263.10" y2="301.60" stroke="#666" stroke-width="0.6"/>
<line x1="261.80" y1="283.54" x2="264.40" y2="283.54" stroke="#777" stroke-width="0.6"/>
<line x1="261.80" y1="301.60" x2="264.40" y2="301.60" stroke="#777" stroke-width="0.6"/>
<rect x="262.35" y="291.61" width="1.5" height="1.5" fill="#111"/>
<line x1="279.80" y1="289.16" x2="279.80" y2="301.51" stroke="#666" stroke-width="0.6"/>
<line x1="278.50" y1="289.16" x2="281.10" y2="289.16" stroke="#777" stroke-width="0.6"/>
<line x1="278.50" y1="301.51" x2="281.10" y2="301.51" stroke="#777" stroke-width="0.6"/>
<rect x="279.05" y="294.58" width="1.5" height="1.5" fill="#111"/>
<line x1="296.50" y1="264.45" x2="296.50" y2="291.12" stroke="#666" stroke-width="0.6"/>
<line x1="295.20" y1="264.45" x2="297.80" y2="264.45" stroke="#777" stroke-width="0.6"/>
<line x1="295.20" y1="291.12" x2="297.80" y2="291.12" stroke="#777" stroke-width="0.6"/>
<rect x="295.75" y="276.89" width="1.5" height="1.5" fill="#111"/>
<line x1="313.20" y1="281.57" x2="313.20" y2="294.49" stroke="#666" stroke-width="0.6"/>
<line x1="311.90" y1="281.57" x2="314.50" y2="281.57" stroke="#777" stroke-width="0.6"/>
<line x1="311.90" y1="294.49" x2="314.50" y2="294.49" stroke="#777" stroke-width="0.6"/>
<rect x="312.45" y="287.56" width="1.5" height="1.5" fill="#111"/>
<line x1="237.50" y1="290.56" x2="337.50" y2="290.56" stroke="#f57f17" stroke-width="1.35" stroke-dasharray="2.6,0.5"/>
<line x1="329.90" y1="251.81" x2="329.90" y2="264.16" stroke="#222" stroke-width="0.75"/>
<line x1="328.50" y1="251.81" x2="331.30" y2="251.81" stroke="#222" stroke-width="0.75"/>
<line x1="328.50" y1="264.16" x2="331.30" y2="264.16" stroke="#222" stroke-width="0.75"/>
<rect x="329.00" y="256.81" width="1.8" height="1.8" fill="#111"/>
<line x1="237.50" y1="234.40" x2="237.50" y2="304.90" stroke="#333" stroke-width="0.8"/>
<line x1="237.20" y1="304.60" x2="337.50" y2="304.60" stroke="#333" stroke-width="0.8"/>
<line x1="235.50" y1="304.60" x2="237.50" y2="304.60" stroke="#333" stroke-width="0.7"/>
<text transform="translate(232.90,306.60) scale(0.85,1)" text-anchor="end" font-size="5.8" fill="#2a2a2a">50</text>
<line x1="235.50" y1="290.56" x2="237.50" y2="290.56" stroke="#333" stroke-width="0.7"/>
<text transform="translate(232.90,292.56) scale(0.85,1)" text-anchor="end" font-size="5.8" fill="#2a2a2a">100</text>
<line x1="235.50" y1="276.52" x2="237.50" y2="276.52" stroke="#333" stroke-width="0.7"/>
<text transform="translate(232.90,278.52) scale(0.85,1)" text-anchor="end" font-size="5.8" fill="#2a2a2a">150</text>
<line x1="235.50" y1="262.48" x2="237.50" y2="262.48" stroke="#333" stroke-width="0.7"/>
<text transform="translate(232.90,264.48) scale(0.85,1)" text-anchor="end" font-size="5.8" fill="#2a2a2a">200</text>
<line x1="235.50" y1="248.44" x2="237.50" y2="248.44" stroke="#333" stroke-width="0.7"/>
<text transform="translate(232.90,250.44) scale(0.85,1)" text-anchor="end" font-size="5.8" fill="#2a2a2a">250</text>
<line x1="235.50" y1="234.40" x2="237.50" y2="234.40" stroke="#333" stroke-width="0.7"/>
<text transform="translate(232.90,236.40) scale(0.85,1)" text-anchor="end" font-size="5.8" fill="#2a2a2a">300</text>
<line x1="236.50" y1="297.58" x2="237.50" y2="297.58" stroke="#333" stroke-width="0.7"/>
<line x1="236.50" y1="283.54" x2="237.50" y2="283.54" stroke="#333" stroke-width="0.7"/>
<line x1="236.50" y1="269.50" x2="237.50" y2="269.50" stroke="#333" stroke-width="0.7"/>
<line x1="236.50" y1="255.46" x2="237.50" y2="255.46" stroke="#333" stroke-width="0.7"/>
<line x1="236.50" y1="241.42" x2="237.50" y2="241.42" stroke="#333" stroke-width="0.7"/>
<line x1="246.40" y1="304.60" x2="246.40" y2="306.40" stroke="#333" stroke-width="0.7"/>
<text transform="translate(246.40,313.20) scale(0.88,1)" text-anchor="middle" font-size="5.6" fill="#2a2a2a">40</text>
<line x1="263.10" y1="304.60" x2="263.10" y2="306.40" stroke="#333" stroke-width="0.7"/>
<text transform="translate(263.10,313.20) scale(0.88,1)" text-anchor="middle" font-size="5.6" fill="#2a2a2a">50</text>
<line x1="279.80" y1="304.60" x2="279.80" y2="306.40" stroke="#333" stroke-width="0.7"/>
<text transform="translate(279.80,313.20) scale(0.88,1)" text-anchor="middle" font-size="5.6" fill="#2a2a2a">60</text>
<line x1="296.50" y1="304.60" x2="296.50" y2="306.40" stroke="#333" stroke-width="0.7"/>
<text transform="translate(296.50,313.20) scale(0.88,1)" text-anchor="middle" font-size="5.6" fill="#2a2a2a">70</text>
<line x1="313.20" y1="304.60" x2="313.20" y2="306.40" stroke="#333" stroke-width="0.7"/>
<text transform="translate(313.20,313.20) scale(0.88,1)" text-anchor="middle" font-size="5.6" fill="#2a2a2a">80</text>
<line x1="329.90" y1="304.60" x2="329.90" y2="306.40" stroke="#333" stroke-width="0.7"/>
<text transform="translate(329.90,313.20) scale(0.88,1)" text-anchor="middle" font-size="5.6" fill="#2a2a2a">90</text>
<line x1="254.75" y1="304.60" x2="254.75" y2="303.60" stroke="#333" stroke-width="0.7"/>
<line x1="271.45" y1="304.60" x2="271.45" y2="303.60" stroke="#333" stroke-width="0.7"/>
<line x1="288.15" y1="304.60" x2="288.15" y2="303.60" stroke="#333" stroke-width="0.7"/>
<line x1="304.85" y1="304.60" x2="304.85" y2="303.60" stroke="#333" stroke-width="0.7"/>
<line x1="321.55" y1="304.60" x2="321.55" y2="303.60" stroke="#333" stroke-width="0.7"/>
<line x1="338.25" y1="304.60" x2="338.25" y2="303.60" stroke="#333" stroke-width="0.7"/>
<text transform="translate(265.80,322.20) scale(0.93,1)" text-anchor="start" font-size="6.2" fill="#111">C<tspan font-size="3.8" dy="1.6">PEDOT:PSS</tspan><tspan dy="-1.6"> (% - wt)</tspan></text>
<text transform="translate(221.00,269.00) rotate(-90) scale(0.95,1)" text-anchor="middle" font-size="6.2" fill="#2a2a2a">Conductivity (S/cm)</text>
</g>
</svg>
</body></html>
